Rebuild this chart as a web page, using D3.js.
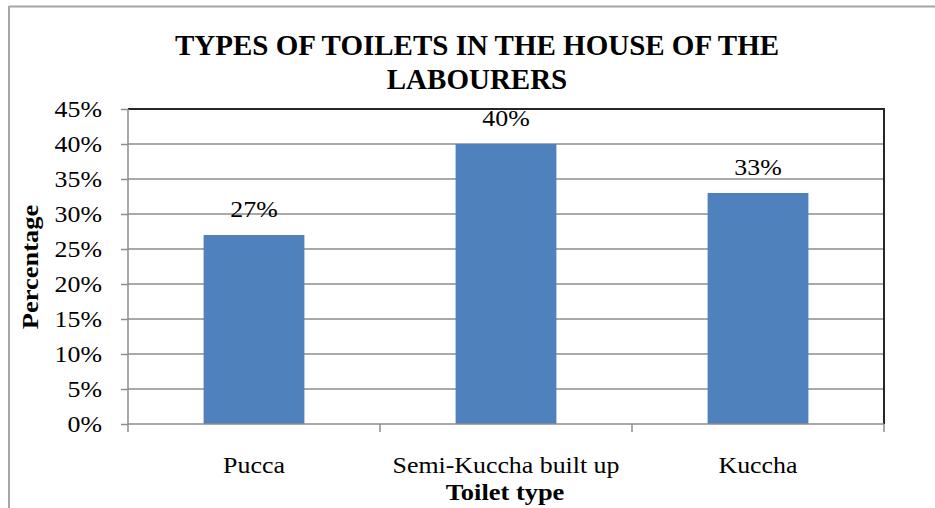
<!DOCTYPE html>
<html>
<head>
<meta charset="utf-8">
<title>Types of toilets</title>
<script src="https://d3js.org/d3.v7.min.js"></script>
<style>
  body { margin: 0; background: #fff; }
  text { font-family: "Liberation Serif", "Times New Roman", serif; fill: #000; }
  .grid line { stroke: #8c8c8c; stroke-width: 1.5; }
</style>
</head>
<body>
<svg width="935" height="508"></svg>
<script>
// data
var categories = ["Pucca", "Semi-Kuccha built up", "Kuccha"];
var values = [27, 40, 33];
var yTicks = [0, 5, 10, 15, 20, 25, 30, 35, 40, 45];

var svg = d3.select("svg");
var plotL = 128, plotR = 884, plotT = 109, plotB = 424;
var sx = 1.15; // the original text is a bit wider than Liberation Serif
var fs = "22.5px";

// outer frame (only left and top edges visible)
svg.append("line").attr("x1", 9).attr("x2", 935).attr("y1", 6.5).attr("y2", 6.5)
  .attr("stroke", "#a6a6a6").attr("stroke-width", 2);
svg.append("line").attr("x1", 9).attr("x2", 9).attr("y1", 6).attr("y2", 508)
  .attr("stroke", "#a6a6a6").attr("stroke-width", 2);

var x = d3.scaleBand().domain(categories).range([plotL, plotR]).paddingInner(0.6).paddingOuter(0.3);
var y = d3.scaleLinear().domain([0, 45]).range([plotB, plotT]);

// gridlines
svg.append("g").attr("class", "grid")
  .selectAll("line").data(yTicks.filter(function(d) { return d > 0 && d < 45; }))
  .enter().append("line")
    .attr("x1", plotL).attr("x2", plotR)
    .attr("y1", function(d) { return y(d); }).attr("y2", function(d) { return y(d); });

// plot border top / right
svg.append("path")
  .attr("d", "M" + plotL + "," + plotT + "H" + plotR + "V" + plotB)
  .attr("fill", "none").attr("stroke", "#262626").attr("stroke-width", 2);

// bars
svg.append("g").selectAll("rect").data(values).enter().append("rect")
  .attr("x", function(d, i) { return x(categories[i]); })
  .attr("width", x.bandwidth())
  .attr("y", function(d) { return y(d); })
  .attr("height", function(d) { return y(0) - y(d); })
  .attr("fill", "#4f81bd");

// value labels
svg.append("g").selectAll("text").data(values).enter().append("text")
  .attr("transform", function(d, i) {
    return "translate(" + (x(categories[i]) + x.bandwidth() / 2) + "," + (y(d) - 18) + ") scale(" + sx + ",1)";
  })
  .attr("text-anchor", "middle")
  .style("font-size", fs)
  .text(function(d) { return d + "%"; });

// y axis
var yAxis = d3.axisLeft(y).tickValues(yTicks).tickSize(7)
  .tickFormat(function(d) { return d + "%"; });
var ga = svg.append("g").attr("transform", "translate(" + plotL + ",0)").call(yAxis);
ga.select(".domain").attr("stroke", "#8c8c8c").attr("stroke-width", 1.5).attr("d", "M0," + plotT + "V" + plotB);
ga.selectAll(".tick line").attr("stroke", "#8c8c8c").attr("stroke-width", 1.5);
ga.selectAll(".tick text").style("font-size", fs).attr("fill", "#000")
  .style("font-family", "'Liberation Serif', serif")
  .attr("x", -26 / sx).attr("transform", "scale(" + sx + ",1)");

// x axis
var xAxis = d3.axisBottom(x).tickSize(0).tickPadding(33);
var gx = svg.append("g").attr("transform", "translate(0," + plotB + ")").call(xAxis);
gx.select(".domain").attr("stroke", "#8c8c8c").attr("stroke-width", 1.5).attr("d", "M" + plotL + ",0H" + plotR);
gx.selectAll(".tick text").style("font-size", fs).attr("fill", "#000")
  .style("font-family", "'Liberation Serif', serif")
  .attr("transform", "scale(" + sx + ",1)");
// category boundary ticks
var bounds = d3.range(categories.length + 1).map(function(i) { return plotL + i * (plotR - plotL) / categories.length; });
gx.selectAll(".bt").data(bounds).enter().append("line")
  .attr("x1", function(d) { return d; }).attr("x2", function(d) { return d; })
  .attr("y1", 0).attr("y2", 8).attr("stroke", "#8c8c8c").attr("stroke-width", 1.5);

// titles
svg.append("text").attr("x", 477).attr("y", 55).attr("text-anchor", "middle")
  .style("font-size", "29px").style("font-weight", "bold")
  .text("TYPES OF TOILETS IN THE HOUSE OF THE");
svg.append("text").attr("x", 477).attr("y", 89).attr("text-anchor", "middle")
  .style("font-size", "29px").style("font-weight", "bold")
  .text("LABOURERS");

svg.append("text").attr("transform", "translate(505,500) scale(" + sx + ",1)").attr("text-anchor", "middle")
  .style("font-size", "23px").style("font-weight", "bold")
  .text("Toilet type");

svg.append("text").attr("transform", "translate(38,267) rotate(-90) scale(" + sx + ",1)").attr("text-anchor", "middle")
  .style("font-size", "23px").style("font-weight", "bold")
  .text("Percentage");
</script>
</body>
</html>
